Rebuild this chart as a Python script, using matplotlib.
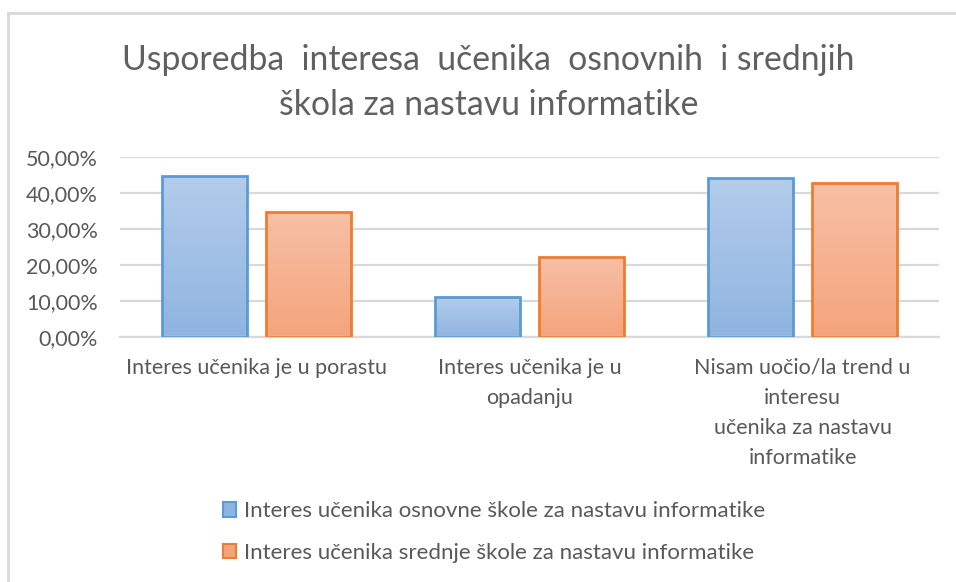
import numpy as np
import matplotlib
matplotlib.use('Agg')
import matplotlib.pyplot as plt
from matplotlib.patches import Patch
from matplotlib.lines import Line2D
from matplotlib.colors import LinearSegmentedColormap

plt.rcParams['font.family'] = ['Lato', 'DejaVu Sans']

# data
categories = ['Interes učenika je u porastu',
              'Interes učenika je u\nopadanju',
              'Nisam uočio/la trend u\ninteresu\nučenika za nastavu\ninformatike']
osnovna = [0.448, 0.110, 0.441]
srednja = [0.348, 0.223, 0.427]
series_names = ['Interes učenika osnovne škole za nastavu informatike',
                'Interes učenika srednje škole za nastavu informatike']
yticks = [0.0, 0.1, 0.2, 0.3, 0.4, 0.5]
title = 'Usporedba  interesa  učenika  osnovnih  i srednjih\nškola za nastavu informatike'

text_col = '#595959'
grid_col = '#d9d9d9'
blue_grad = ('#b3cceb', '#8fb4e0')   # top, bottom
orange_grad = ('#f7c0a6', '#f4a47c')
blue_edge = '#5b9bd5'
orange_edge = '#ed7d31'


def gradient_fill(ax, bars, top_col, bot_col):
    cmap = LinearSegmentedColormap.from_list('g', [bot_col, top_col])
    grad = np.linspace(0, 1, 256).reshape(-1, 1)
    for b in bars:
        x0, y0 = b.get_x(), b.get_y()
        w, h = b.get_width(), b.get_height()
        im = ax.imshow(grad, cmap=cmap, aspect='auto', origin='lower',
                       extent=(x0, x0 + w, y0, y0 + h), zorder=2)
        im.set_clip_path(b)


def main():
    fig = plt.figure(figsize=(9.56, 5.82), dpi=100)
    ax = fig.add_axes([120 / 956, 1 - 337 / 582, (939 - 120) / 956, 180 / 582])

    x = np.arange(len(categories))
    w = 0.31
    off = 0.19
    b1 = ax.bar(x - off, osnovna, w, facecolor='none', edgecolor=blue_edge, linewidth=2, zorder=3)
    b2 = ax.bar(x + off, srednja, w, facecolor='none', edgecolor=orange_edge, linewidth=2, zorder=3)
    gradient_fill(ax, b1, *blue_grad)
    gradient_fill(ax, b2, *orange_grad)

    ax.set_xlim(-0.5, len(categories) - 0.5)
    ax.set_ylim(0, 0.5)
    ax.set_yticks(yticks)
    ax.yaxis.set_major_formatter(plt.FuncFormatter(lambda v, p: ('%.2f%%' % (v * 100)).replace('.', ',')))
    ax.set_xticks(x)
    ax.set_xticklabels(categories)
    for t in ax.get_xticklabels():
        t.set_linespacing(1.62)

    ax.grid(axis='y', color=grid_col, linewidth=1.6, zorder=0)
    ax.set_axisbelow(True)
    for s in ['top', 'right', 'left']:
        ax.spines[s].set_visible(False)
    ax.spines['bottom'].set_color(grid_col)
    ax.spines['bottom'].set_linewidth(1.6)
    ax.tick_params(axis='both', length=0, colors=text_col, labelsize=15.5)
    ax.tick_params(axis='y', pad=16)
    ax.tick_params(axis='x', pad=15)

    fig.text(0.511, 1 - 83 / 582, title, ha='center', va='center', fontsize=24.3,
             color='#606060', linespacing=1.5)

    handles = [Patch(facecolor=blue_grad[1], edgecolor=blue_edge, linewidth=1.5),
               Patch(facecolor=orange_grad[1], edgecolor=orange_edge, linewidth=1.5)]
    fig.legend(handles, series_names, loc='center', bbox_to_anchor=(494 / 956, 1 - 532 / 582),
               ncol=1, frameon=False, fontsize=16, labelcolor=text_col,
               handlelength=0.62, handleheight=0.62, handletextpad=0.35, labelspacing=0.95)

    # outer chart frame
    fig.add_artist(Line2D([8 / 956, 1], [1 - 13 / 582, 1 - 13 / 582], color=grid_col, linewidth=2))
    fig.add_artist(Line2D([8 / 956, 8 / 956], [0, 1 - 13 / 582], color=grid_col, linewidth=2))

    fig.savefig('out.png', dpi=100)


if __name__ == '__main__':
    main()
